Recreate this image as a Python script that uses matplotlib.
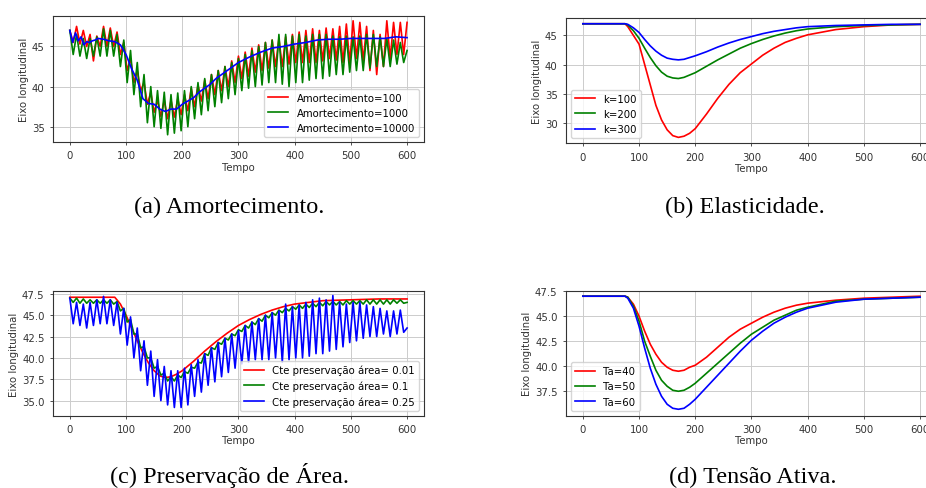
import numpy as np
import matplotlib.pyplot as plt

# ---- (a) Amortecimento: peak/trough samples every 6 time units ----
t_osc = np.arange(0, 601, 6)

amort_100 = [47, 45.5, 47.5, 45.3, 47, 45, 46.5, 43.2, 46.3, 45,
             47.5, 45, 47.3, 45, 46.8, 44, 45.5, 42, 43.5, 40.5,
             42, 39.5, 40.5, 37.8, 39.3, 36.8, 38.3, 36.3, 38.3, 36,
             38.3, 36.2, 38.5, 36.5, 39, 37, 39.8, 37.5, 40.2, 38.2,
             40.8, 38.5, 41.5, 39, 42, 39.5, 42.5, 40, 43.2, 40.5,
             43.8, 41, 44.3, 41.3, 44.8, 41.8, 45.2, 42, 45.5, 42.3,
             45.8, 42.5, 46, 42.5, 46.2, 42.8, 46.5, 43, 46.8, 43,
             47, 43, 47.2, 43, 47, 43.2, 47.3, 43.5, 47.2, 43.3,
             47.5, 43, 47.8, 43, 48.2, 43.5, 48, 43.2, 47.5, 42,
             47, 41.5, 46.5, 42.5, 48.2, 43.5, 48, 44, 48, 44, 48]

amort_1000 = [47, 44, 46.5, 43.8, 46, 43.5, 46, 43.8, 46.2, 43.8,
              47.2, 43.8, 47, 43.8, 46.5, 42.5, 45.8, 40.5, 44.5, 39,
              43, 37.5, 41.5, 35.5, 40, 35, 39.5, 34.8, 39.3, 34,
              39, 34.2, 39.2, 34.5, 39.5, 35, 40, 36, 40.5, 36.5,
              41, 37, 41.5, 37.5, 42, 38, 42.5, 38.5, 43, 39,
              43.5, 39.5, 44, 39.8, 44.5, 40, 45, 40.2, 45.5, 40.5,
              45.8, 40.5, 46.5, 40.3, 46.5, 40, 46.3, 40.5, 46.5, 40.5,
              46.3, 40.8, 46.5, 41, 46.5, 41, 46.5, 41.3, 46.3, 41.5,
              46.2, 41.5, 46.3, 41.8, 46.2, 42, 46.3, 42, 46.5, 42.3,
              46.5, 42.5, 46.2, 42.5, 46, 42.5, 45.8, 42.8, 45.5, 43, 44.5]

t_amort_10000 = [0, 5, 10, 15, 20, 25, 30, 35, 40, 45, 50,
                 60, 70, 80, 90, 100, 110, 120, 130, 140, 150, 160, 170, 180,
                 190, 200, 210, 220, 230, 240, 250, 260, 270, 280, 290, 300,
                 320, 340, 360, 380, 400, 420, 440, 460, 480, 500, 520, 540,
                 560, 580, 600]
amort_10000 = [47, 45.5, 46.7, 45.7, 46.2, 45.2, 45.6, 45.5, 45.7, 45.8, 46,
               45.9, 45.7, 45.6, 45.2, 44, 42.2, 40.8, 38.5, 37.9, 37.8, 37.2, 36.9, 37.2,
               37.2, 37.8, 38.2, 38.6, 39.3, 39.8, 40.3, 41, 41.5, 42, 42.5, 43,
               43.7, 44.3, 44.8, 45, 45.3, 45.5, 45.8, 45.9, 45.9, 46, 46, 46,
               46, 46.2, 46.1]

# ---- (b) Elasticidade ----
t_smooth = [0, 75, 80, 90, 100, 110, 120, 130, 140, 150, 160, 170, 180, 190, 200,
            220, 240, 260, 280, 300, 320, 340, 360, 380, 400, 450, 500, 550, 600]
k_100 = [47, 47, 46.5, 45, 43.5, 40, 36.5, 33, 30.5, 28.8, 27.8, 27.5, 27.7, 28.2, 29.0,
         31.5, 34.2, 36.6, 38.6, 40.1, 41.6, 42.8, 43.8, 44.5, 45.1, 46, 46.5, 46.8, 46.9]
k_200 = [47, 47, 46.8, 45.8, 44.5, 42.8, 41.2, 39.8, 38.7, 38, 37.7, 37.6, 37.8, 38.2, 38.6,
         39.7, 40.8, 41.8, 42.8, 43.6, 44.3, 44.9, 45.4, 45.8, 46.1, 46.5, 46.7, 46.8, 46.9]
k_300 = [47, 47, 46.9, 46.3, 45.5, 44.3, 43.2, 42.3, 41.6, 41.1, 40.9, 40.8, 40.9, 41.2, 41.5,
         42.2, 43, 43.7, 44.3, 44.8, 45.3, 45.7, 46, 46.3, 46.5, 46.7, 46.8, 46.9, 46.9]

# ---- (c) Preservacao de area ----
area_001 = [47.1, 47.1, 47.1, 46.3, 45, 43.5, 42, 40.6, 39.4, 38.5, 37.9, 37.7, 37.8, 38.1, 38.5,
            39.6, 40.8, 41.9, 42.9, 43.8, 44.5, 45.1, 45.6, 46, 46.3, 46.7, 46.8, 46.9, 46.9]

area_01 = [47, 46.5, 47, 46.4, 46.9, 46.4, 46.8, 46.4, 46.8, 46.4,
           46.8, 46.4, 46.8, 46.3, 46.6, 45.5, 45.8, 44.2, 44.5, 42.8,
           42.8, 41.2, 41.3, 40, 40, 38.8, 39, 38, 38.2, 37.3,
           37.8, 37.3, 38, 37.7, 38.4, 38.2, 38.9, 38.8, 39.5, 39.4,
           40.5, 40.3, 41.2, 41, 41.8, 41.6, 42.3, 42.1, 42.8, 42.6,
           43.3, 43.1, 43.8, 43.5, 44.2, 43.9, 44.6, 44.3, 45, 44.7,
           45.3, 45, 45.6, 45.3, 45.8, 45.5, 46, 45.7, 46.2, 45.8,
           46.3, 45.9, 46.4, 46, 46.5, 46.1, 46.6, 46.2, 46.6, 46.2,
           46.6, 46.2, 46.7, 46.3, 46.7, 46.3, 46.7, 46.3, 46.8, 46.3,
           46.8, 46.3, 46.8, 46.3, 46.8, 46.3, 46.8, 46.4, 46.8, 46.4, 46.5]

area_025 = [47, 44, 46.5, 43.8, 46.3, 43.5, 46.5, 43.8, 46.8, 44,
            47.2, 44, 46.8, 43.8, 46.5, 42.8, 45.8, 41.5, 44.8, 40,
            43.5, 38.5, 42, 36.8, 40.8, 35.5, 39.8, 35, 39, 34.5,
            38.5, 34.2, 38.5, 34.2, 38.8, 34.5, 39.2, 35.5, 39.8, 36,
            40.5, 36.8, 41.2, 37.2, 41.8, 37.8, 42.3, 38.3, 42.8, 38.8,
            43.2, 39.3, 43.8, 39.5, 44.2, 39.8, 44.6, 39.8, 45, 39.8,
            45.3, 40, 45.5, 39.5, 46.3, 39.8, 46, 40, 46.2, 40,
            46.5, 40.2, 46.8, 40.5, 47, 40.5, 46.8, 40.8, 47.3, 41,
            46.5, 41.3, 46.3, 41.8, 46.5, 42, 46.5, 42.3, 46.2, 42.5,
            46, 42.5, 45.8, 42.8, 45.5, 42.5, 45.5, 42.8, 45.6, 43, 43.5]

# ---- (d) Tensao ativa ----
ta_40 = [47, 47, 46.9, 46.2, 45, 43.5, 42.2, 41.2, 40.4, 39.9, 39.6, 39.5, 39.6, 39.9, 40.1,
         40.9, 41.9, 42.9, 43.7, 44.3, 44.9, 45.4, 45.8, 46.1, 46.3, 46.6, 46.8, 46.9, 47]
ta_50 = [47, 47, 46.9, 46, 44.5, 42.5, 41, 39.6, 38.6, 38, 37.6, 37.5, 37.6, 37.9, 38.3,
         39.3, 40.3, 41.3, 42.3, 43.2, 43.9, 44.6, 45.1, 45.6, 45.9, 46.5, 46.7, 46.8, 46.9]
ta_60 = [47, 47, 46.8, 45.8, 44, 41.8, 39.8, 38.2, 37, 36.2, 35.8, 35.7, 35.8, 36.2, 36.7,
         37.9, 39.1, 40.3, 41.5, 42.6, 43.5, 44.3, 44.9, 45.4, 45.8, 46.4, 46.7, 46.8, 46.9]

fig = plt.figure(figsize=(9.26, 4.89), dpi=100)
fs = 7.3
lw = 1.2

def style(ax, ylim, yticks, fmt):
    ax.set_xlim(-30, 630)
    ax.set_ylim(*ylim)
    ax.set_xticks([0, 100, 200, 300, 400, 500, 600])
    ax.set_yticks(yticks)
    ax.set_yticklabels([fmt.format(v) for v in yticks])
    ax.tick_params(labelsize=fs, width=0.6, length=2.5, colors='#333333')
    ax.grid(True, color='#cccccc', linewidth=0.7)
    ax.set_axisbelow(True)
    for s in ax.spines.values():
        s.set_linewidth(0.8)
        s.set_color('#333333')
    ax.set_xlabel('Tempo', fontsize=fs, color='#333333', labelpad=1)
    ax.set_ylabel('Eixo longitudinal', fontsize=fs, color='#333333', labelpad=2)

ax_a = fig.add_axes([0.0572, 0.7076, 0.4006, 0.2577])
ax_a.plot(t_osc, amort_100, color='red', lw=lw, label='Amortecimento=100')
ax_a.plot(t_osc, amort_1000, color='green', lw=lw, label='Amortecimento=1000')
ax_a.plot(t_amort_10000, amort_10000, color='blue', lw=lw, label='Amortecimento=10000')
style(ax_a, (33.1, 48.8), [35, 40, 45], '{:g}')
ax_a.legend(loc='lower right', fontsize=fs)

ax_b = fig.add_axes([0.6112, 0.7051, 0.4006, 0.2562])
ax_b.plot(t_smooth, k_100, color='red', lw=lw, label='k=100')
ax_b.plot(t_smooth, k_200, color='green', lw=lw, label='k=200')
ax_b.plot(t_smooth, k_300, color='blue', lw=lw, label='k=300')
style(ax_b, (26.5, 48), [30, 35, 40, 45], '{:g}')
ax_b.legend(loc='lower left', fontsize=fs)

ax_c = fig.add_axes([0.0572, 0.1479, 0.4006, 0.2544])
ax_c.plot(t_smooth, area_001, color='red', lw=lw, label='Cte preservação área= 0.01')
ax_c.plot(t_osc, area_01, color='green', lw=lw, label='Cte preservação área= 0.1')
ax_c.plot(t_osc, area_025, color='blue', lw=lw, label='Cte preservação área= 0.25')
style(ax_c, (33.24, 47.8), [35, 37.5, 40, 42.5, 45, 47.5], '{:.1f}')
ax_c.legend(loc='lower right', fontsize=fs)

ax_d = fig.add_axes([0.6112, 0.1479, 0.4006, 0.2556])
ax_d.plot(t_smooth, ta_40, color='red', lw=lw, label='Ta=40')
ax_d.plot(t_smooth, ta_50, color='green', lw=lw, label='Ta=50')
ax_d.plot(t_smooth, ta_60, color='blue', lw=lw, label='Ta=60')
style(ax_d, (35.06, 47.55), [37.5, 40, 42.5, 45, 47.5], '{:.1f}')
ax_d.legend(loc='lower left', fontsize=fs)

cap = dict(fontsize=17.5, family='Liberation Serif', ha='center', va='baseline')
fig.text(229.5 / 926, 1 - 213 / 489, '(a) Amortecimento.', **cap)
fig.text(745 / 926, 1 - 213 / 489, '(b) Elasticidade.', **cap)
fig.text(229.5 / 926, 1 - 483 / 489, '(c) Preservação de Área.', **cap)
fig.text(753 / 926, 1 - 483 / 489, '(d) Tensão Ativa.', **cap)

fig.savefig('out.png', dpi=100)
